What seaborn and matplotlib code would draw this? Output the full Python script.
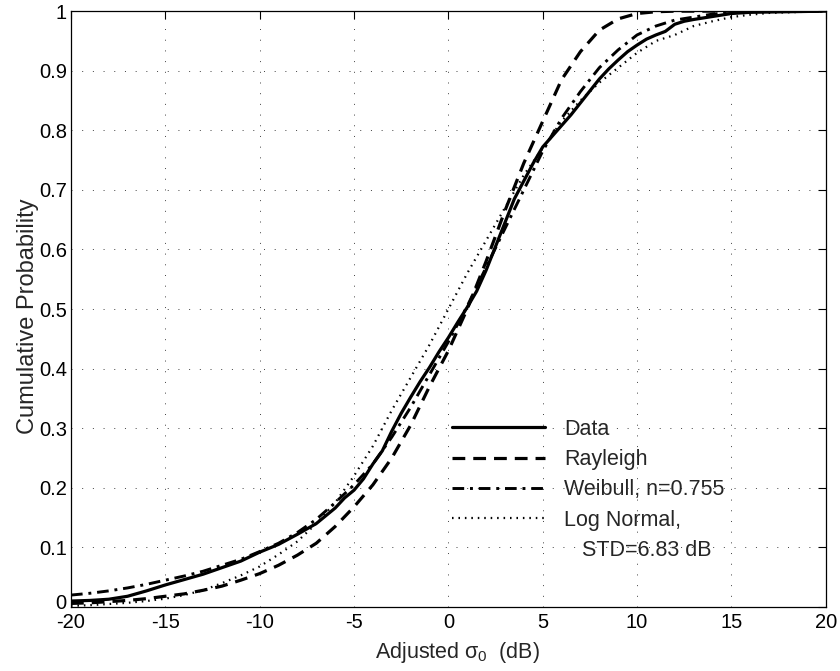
import matplotlib
matplotlib.use("Agg")
import matplotlib.pyplot as plt
import matplotlib.transforms as mtransforms
from matplotlib.lines import Line2D
import seaborn as sns

# values
data_x = [-20, -19, -18, -17, -16, -15, -14, -13, -12, -11, -10, -9, -8, -7, -6, -5.5, -5,
          -4.5, -4, -3.5, -3, -2.5, -2, -1.5, -1, -0.5, 0, 0.5, 1, 1.5, 2, 2.5, 3, 3.5, 4,
          4.5, 5, 5.5, 6, 6.5, 7, 7.5, 8, 8.5, 9, 9.5, 10, 10.5, 11, 11.5, 12, 12.5, 13,
          14, 15, 16, 18, 20]
data_y = [0.010, 0.011, 0.013, 0.018, 0.027, 0.037, 0.046, 0.055, 0.066, 0.077, 0.092,
          0.105, 0.122, 0.140, 0.166, 0.183, 0.196, 0.215, 0.240, 0.262, 0.295, 0.325,
          0.352, 0.378, 0.402, 0.428, 0.452, 0.478, 0.503, 0.530, 0.565, 0.605, 0.645,
          0.685, 0.715, 0.745, 0.772, 0.790, 0.808, 0.826, 0.846, 0.866, 0.886, 0.903,
          0.918, 0.932, 0.943, 0.953, 0.960, 0.966, 0.978, 0.983, 0.986, 0.991, 0.996,
          0.998, 0.999, 1.0]

fit_x = [-20, -19, -18, -17, -16, -15, -14, -13, -12, -11, -10, -9, -8, -7, -6, -5, -4,
         -3, -2, -1, 0, 1, 2, 3, 4, 5, 6, 7, 8, 9, 10, 11, 12, 13, 14, 15, 16, 17, 18, 20]
rayleigh_y = [0.006, 0.007, 0.009, 0.011, 0.014, 0.018, 0.022, 0.028, 0.035, 0.045,
              0.056, 0.070, 0.087, 0.107, 0.135, 0.168, 0.205, 0.250, 0.305, 0.370,
              0.430, 0.500, 0.580, 0.665, 0.745, 0.815, 0.885, 0.932, 0.968, 0.987,
              0.996, 0.999, 1.0, 1.0, 1.0, 1.0, 1.0, 1.0, 1.0, 1.0]
weibull_y = [0.020, 0.023, 0.027, 0.032, 0.038, 0.045, 0.052, 0.060, 0.070, 0.080,
             0.093, 0.107, 0.125, 0.147, 0.175, 0.205, 0.240, 0.285, 0.335, 0.390,
             0.445, 0.505, 0.570, 0.635, 0.700, 0.765, 0.820, 0.865, 0.905, 0.935,
             0.960, 0.975, 0.985, 0.990, 0.995, 0.998, 0.999, 1.0, 1.0, 1.0]
lognormal_y = [0.002, 0.003, 0.005, 0.007, 0.010, 0.014, 0.020, 0.028, 0.040, 0.053,
               0.068, 0.088, 0.110, 0.140, 0.175, 0.220, 0.270, 0.330, 0.385, 0.440,
               0.500, 0.560, 0.615, 0.670, 0.725, 0.770, 0.815, 0.850, 0.880, 0.905,
               0.930, 0.950, 0.960, 0.975, 0.983, 0.990, 0.994, 0.997, 0.998, 1.0]

x_ticks = [-20, -15, -10, -5, 0, 5, 10, 15, 20]
y_ticks = [0, 0.1, 0.2, 0.3, 0.4, 0.5, 0.6, 0.7, 0.8, 0.9, 1]
y_tick_labels = ["0", "0.1", "0.2", "0.3", "0.4", "0.5", "0.6", "0.7", "0.8", "0.9", "1"]

sns.set_style("white")
plt.rcParams["font.family"] = ["Liberation Sans", "DejaVu Sans"]
plt.rcParams["mathtext.fontset"] = "custom"
plt.rcParams["mathtext.rm"] = "Liberation Sans"
plt.rcParams["mathtext.it"] = "Liberation Sans"
plt.rcParams["axes.unicode_minus"] = False

fig = plt.figure(figsize=(8.4, 6.71), dpi=100)
ax = fig.add_axes([0.0845, 0.0954, 0.8985, 0.888])

sns.lineplot(x=data_x, y=data_y, ax=ax, color="black", linewidth=2.3,
             linestyle="-", legend=False)
sns.lineplot(x=fit_x, y=rayleigh_y, ax=ax, color="black", linewidth=2.3,
             linestyle=(0, (4, 2.5)), legend=False)
sns.lineplot(x=fit_x, y=weibull_y, ax=ax, color="black", linewidth=2.1,
             linestyle=(0, (4, 2, 1, 2)), legend=False)
sns.lineplot(x=fit_x, y=lognormal_y, ax=ax, color="black", linewidth=1.6,
             linestyle=(0, (0.7, 2.2)), legend=False)

ax.set_xlim(-20, 20)
ax.set_ylim(0, 1)
ax.set_xticks(x_ticks)
ax.set_yticks(y_ticks)
ax.set_yticklabels(y_tick_labels)
ax.tick_params(direction="in", top=True, right=True, length=5.8, width=0.8,
               labelsize=14.5, colors="black")
ax.tick_params(axis="x", pad=4)
ax.tick_params(axis="y", pad=3)
for s in ax.spines.values():
    s.set_color("black")
    s.set_linewidth(0.9)
ax.grid(True, color="0.25", linestyle=(0, (1, 10)), linewidth=0.7)

# nudge the y "0" label up a little so it does not sit on the "-20" label
lbl0 = ax.get_yticklabels()[0]
lbl0.set_transform(lbl0.get_transform() + mtransforms.ScaledTranslation(0, 4 / 72, fig.dpi_scale_trans))

ax.set_xlabel(r"Adjusted $\sigma_0$  (dB)", fontsize=15.5)
ax.xaxis.set_label_coords(0.512, -0.055)
ax.set_ylabel("Cumulative Probability", fontsize=17)
ax.yaxis.set_label_coords(-0.043, 0.488)

handles = [
    Line2D([], [], color="black", linewidth=2.3, linestyle="-"),
    Line2D([], [], color="black", linewidth=2.3, linestyle=(0, (4, 2.5))),
    Line2D([], [], color="black", linewidth=2.1, linestyle=(0, (4, 2, 1, 2))),
    Line2D([], [], color="black", linewidth=1.6, linestyle=(0, (0.7, 2.2))),
    Line2D([], [], color="none"),
]
labels = ["Data", "Rayleigh", "Weibull, n=0.755", "Log Normal,", "   STD=6.83 dB"]
ax.legend(handles, labels, loc="upper left", bbox_to_anchor=(0.494, 0.33),
          borderaxespad=0, frameon=False, fontsize=15.5, handlelength=4.3,
          handletextpad=0.9, labelspacing=0.43)

fig.savefig("out.png", dpi=100)
